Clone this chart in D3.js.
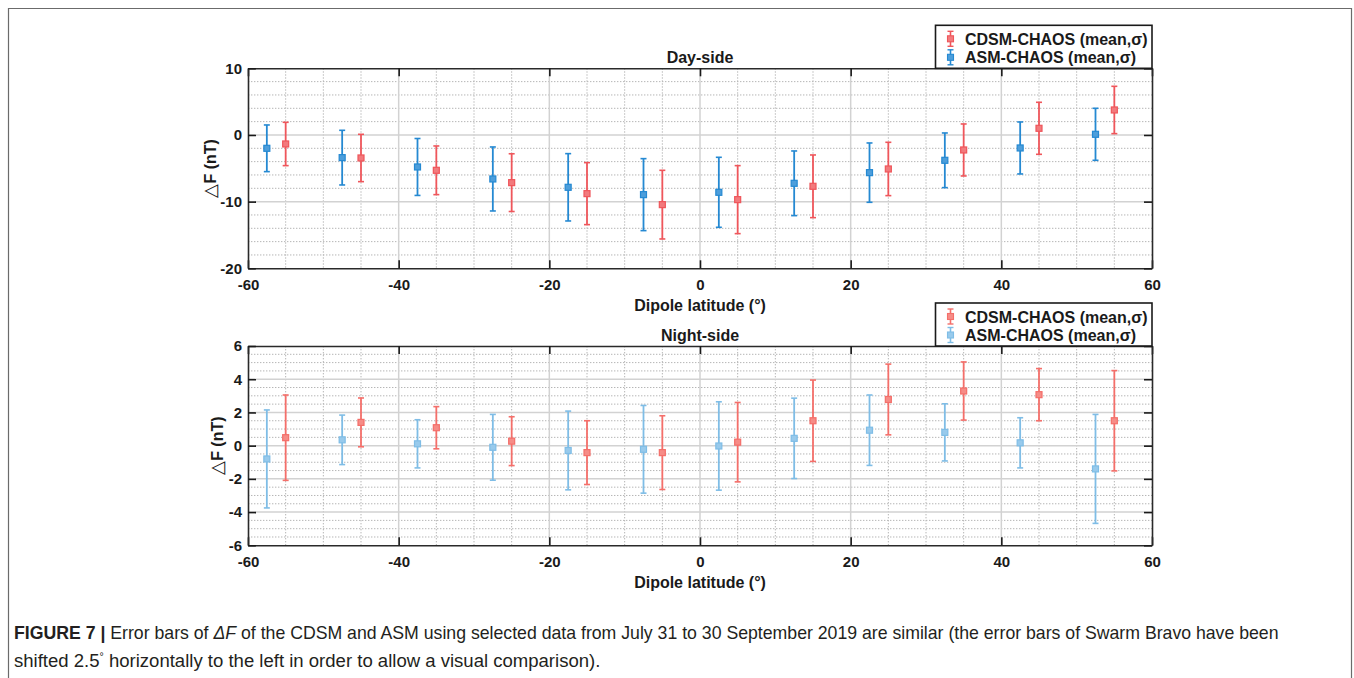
<!DOCTYPE html>
<html><head><meta charset="utf-8">
<script src="https://cdn.jsdelivr.net/npm/d3@7"></script>
<style>
html,body{margin:0;padding:0;background:#fff;}
svg{display:block;font-family:"Liberation Sans",Arial,Helvetica,sans-serif;}
</style></head><body>
<svg id="fig" width="1354" height="678"></svg>
<script>
// Bin centres in dipole latitude (deg); ASM bins are shifted 2.5° to the left
const asmLatitude  = [-57.5,-47.5,-37.5,-27.5,-17.5,-7.5,2.5,12.5,22.5,32.5,42.5,52.5];
const cdsmLatitude = [-55,-45,-35,-25,-15,-5,5,15,25,35,45,55];

// Day-side ΔF statistics (nT)
const dayCdsmMean  = [-1.35,-3.45,-5.3,-7.15,-8.8,-10.45,-9.7,-7.7,-5.1,-2.25,1.0,3.75];
const dayCdsmSigma = [3.25,3.55,3.65,4.33,4.65,5.15,5.1,4.7,4.0,3.9,3.9,3.55];
const dayAsmMean   = [-2.0,-3.4,-4.8,-6.6,-7.85,-8.95,-8.6,-7.25,-5.65,-3.8,-1.95,0.1];
const dayAsmSigma  = [3.5,4.1,4.27,4.8,5.05,5.4,5.25,4.85,4.45,4.1,3.9,3.9];

// Night-side ΔF statistics (nT)
const nightCdsmMean  = [0.48,1.4,1.08,0.27,-0.42,-0.42,0.21,1.5,2.78,3.29,3.07,1.5];
const nightCdsmSigma = [2.57,1.47,1.27,1.47,1.92,2.22,2.39,2.45,2.13,1.75,1.57,3.02];
const nightAsmMean   = [-0.8,0.35,0.11,-0.1,-0.29,-0.22,-0.02,0.44,0.93,0.8,0.17,-1.4];
const nightAsmSigma  = [2.95,1.49,1.45,1.98,2.37,2.64,2.66,2.42,2.12,1.72,1.51,3.28];

// Tick labels
const latTicks   = [-60,-40,-20,0,20,40,60];
const dayTicks   = [-20,-10,0,10];
const nightTicks = [-6,-4,-2,0,2,4,6];

const legendLabels = ["CDSM-CHAOS (mean,\u03c3)", "ASM-CHAOS (mean,\u03c3)"];

const svg = d3.select("#fig");
const plotLeft = 248, plotRight = 1152;
const x = d3.scaleLinear().domain([-60, 60]).range([plotLeft, plotRight]);
const fmt = d => String(d);

// Figure frame
svg.append("path")
  .attr("d", "M8.5,678 V8.5 H1351.5 V678")
  .attr("fill", "none").attr("stroke", "#6b6b6b").attr("stroke-width", 1.2);

function drawPanel(p) {
  const y = d3.scaleLinear().domain(p.yDomain).range([p.bottom, p.top]);
  const g = svg.append("g");

  // minor dotted grid
  const xMinor = d3.range(-55, 60, 5).filter(v => !latTicks.includes(v));
  const yMinor = d3.range(p.yDomain[0], p.yDomain[1] + 1e-9, p.minorStep)
    .filter(v => !p.yTicks.some(t => Math.abs(t - v) < 1e-9));
  g.selectAll(".vmin").data(xMinor).join("line")
    .attr("x1", d => x(d)).attr("x2", d => x(d)).attr("y1", p.top).attr("y2", p.bottom)
    .attr("stroke", "#b5b5b5").attr("stroke-width", 1).attr("stroke-dasharray", "1.4,1.6");
  g.selectAll(".hmin").data(yMinor).join("line")
    .attr("x1", plotLeft).attr("x2", plotRight).attr("y1", d => y(d)).attr("y2", d => y(d))
    .attr("stroke", "#b5b5b5").attr("stroke-width", 1).attr("stroke-dasharray", "1.4,1.6");

  // major solid grid
  g.selectAll(".vmaj").data(latTicks.slice(1, -1)).join("line")
    .attr("x1", d => x(d)).attr("x2", d => x(d)).attr("y1", p.top).attr("y2", p.bottom)
    .attr("stroke", "#d2d2d2").attr("stroke-width", 1.5);
  g.selectAll(".hmaj").data(p.yTicks.slice(1, -1)).join("line")
    .attr("x1", plotLeft).attr("x2", plotRight).attr("y1", d => y(d)).attr("y2", d => y(d))
    .attr("stroke", "#d2d2d2").attr("stroke-width", 1.5);

  // error bars
  p.series.forEach(s => {
    const sg = g.append("g");
    const data = s.lat.map((l, i) => ({ lat: l, m: s.mean[i], sd: s.sigma[i] }));
    sg.selectAll(".bar").data(data).join("line")
      .attr("x1", d => x(d.lat)).attr("x2", d => x(d.lat))
      .attr("y1", d => y(d.m + d.sd)).attr("y2", d => y(d.m - d.sd))
      .attr("stroke", s.color).attr("stroke-width", 1.8);
    ["capTop", "capBot"].forEach((c, k) => {
      sg.selectAll("." + c).data(data).join("line")
        .attr("x1", d => x(d.lat) - 3).attr("x2", d => x(d.lat) + 3)
        .attr("y1", d => y(k ? d.m - d.sd : d.m + d.sd))
        .attr("y2", d => y(k ? d.m - d.sd : d.m + d.sd))
        .attr("stroke", s.color).attr("stroke-width", 1.6);
    });
    sg.selectAll(".mk").data(data).join("rect")
      .attr("x", d => x(d.lat) - 3).attr("y", d => y(d.m) - 3)
      .attr("width", 6).attr("height", 6)
      .attr("fill", s.fill).attr("stroke", s.color).attr("stroke-width", 1.2);
  });

  // axes: labels outside, ticks pointing inward, box on all sides
  const axStyle = a => {
    a.selectAll("text").attr("font-size", 15).attr("font-weight", "bold").attr("fill", "#1a1a1a");
    a.selectAll("line").attr("stroke", "#1a1a1a").attr("stroke-width", 1.6);
    a.select(".domain").attr("stroke", "#2a2a2a").attr("stroke-width", 1.6);
  };
  svg.append("g").attr("transform", `translate(0,${p.bottom})`)
    .call(d3.axisBottom(x).tickValues(latTicks).tickFormat(fmt).tickSizeInner(-8).tickSizeOuter(0).tickPadding(11))
    .call(axStyle);
  svg.append("g").attr("transform", `translate(0,${p.top})`)
    .call(d3.axisTop(x).tickValues(latTicks).tickFormat("").tickSizeInner(-8).tickSizeOuter(0))
    .call(axStyle);
  svg.append("g").attr("transform", `translate(${plotLeft},0)`)
    .call(d3.axisLeft(y).tickValues(p.yTicks).tickFormat(fmt).tickSizeInner(-8).tickSizeOuter(0).tickPadding(6))
    .call(axStyle);
  svg.append("g").attr("transform", `translate(${plotRight},0)`)
    .call(d3.axisRight(y).tickValues(p.yTicks).tickFormat("").tickSizeInner(-8).tickSizeOuter(0))
    .call(axStyle);

  // titles and axis labels
  svg.append("text").attr("x", (plotLeft + plotRight) / 2).attr("y", p.top - 5.5)
    .attr("text-anchor", "middle").attr("font-size", 16).attr("font-weight", "bold")
    .attr("fill", "#1a1a1a").text(p.title);
  svg.append("text").attr("x", (plotLeft + plotRight) / 2).attr("y", p.bottom + 42.3)
    .attr("text-anchor", "middle").attr("font-size", 16).attr("font-weight", "bold")
    .attr("fill", "#1a1a1a").text("Dipole latitude (\u00b0)");
  const yl = svg.append("text")
    .attr("transform", `translate(${p.yLabelX},${(p.top + p.bottom) / 2}) rotate(-90)`)
    .attr("text-anchor", "middle").attr("font-size", 16).attr("font-weight", "bold")
    .attr("fill", "#1a1a1a");
  yl.append("tspan").attr("font-weight", "normal").attr("font-size", 18).text("\u25b3");
  yl.append("tspan").text("F (nT)");

  // legend
  const lg = svg.append("g");
  lg.append("rect").attr("x", 935.5).attr("y", p.top - 43).attr("width", plotRight - 935.5)
    .attr("height", 43).attr("fill", "#fff").attr("stroke", "#1a1a1a").attr("stroke-width", 1.6);
  const entries = [p.series[1], p.series[0]];
  entries.forEach((s, i) => {
    const cy = p.top - 29.5 + i * 18.5, cx = 950.5;
    lg.append("line").attr("x1", cx).attr("x2", cx).attr("y1", cy - 7.5).attr("y2", cy + 7.5)
      .attr("stroke", s.color).attr("stroke-width", 1.6);
    [-7.5, 7.5].forEach(o => lg.append("line").attr("x1", cx - 3).attr("x2", cx + 3)
      .attr("y1", cy + o).attr("y2", cy + o).attr("stroke", s.color).attr("stroke-width", 1.4));
    lg.append("rect").attr("x", cx - 3).attr("y", cy - 3).attr("width", 6).attr("height", 6)
      .attr("fill", s.fill).attr("stroke", s.color).attr("stroke-width", 1.1);
    lg.append("text").attr("x", 965).attr("y", cy + 6).attr("font-size", 16)
      .attr("font-weight", "bold").attr("fill", "#1a1a1a").text(legendLabels[i]);
  });
}

drawPanel({
  top: 68.3, bottom: 268.3, yDomain: [-20, 10], yTicks: dayTicks, minorStep: 2,
  title: "Day-side", yLabelX: 216,
  series: [
    { lat: asmLatitude, mean: dayAsmMean, sigma: dayAsmSigma, color: "#2589d2", fill: "#4d9edb" },
    { lat: cdsmLatitude, mean: dayCdsmMean, sigma: dayCdsmSigma, color: "#ef565b", fill: "#f27a7d" }
  ]
});
drawPanel({
  top: 346, bottom: 545.3, yDomain: [-6, 6], yTicks: nightTicks, minorStep: 0.5,
  title: "Night-side", yLabelX: 223,
  series: [
    { lat: asmLatitude, mean: nightAsmMean, sigma: nightAsmSigma, color: "#7fbde6", fill: "#98caec" },
    { lat: cdsmLatitude, mean: nightCdsmMean, sigma: nightCdsmSigma, color: "#f46f6a", fill: "#f68c87" }
  ]
});

// Caption set in a condensed face: natural width is squeezed horizontally to fit the line
function captionLine(yBase, parts, targetWidth) {
  const t = svg.append("text").attr("font-size", 17.5).attr("fill", "#231f20");
  parts.forEach(pt => {
    const ts = t.append("tspan").text(pt.text);
    if (pt.bold) ts.attr("font-weight", "bold");
    if (pt.italic) ts.attr("font-style", "italic");
    if (pt.sup) ts.attr("font-size", 10).attr("dy", -7);
    if (pt.down) ts.attr("dy", 7);
  });
  const w = t.node().getComputedTextLength();
  t.attr("transform", `translate(14,${yBase}) scale(${targetWidth / w},1)`);
}
captionLine(638.5, [
  { text: "FIGURE 7 | ", bold: true },
  { text: "Error bars of " }, { text: "\u0394F", italic: true },
  { text: " of the CDSM and ASM using selected data from July 31 to 30 September 2019 are similar (the error bars of Swarm Bravo have been" }
], 1266);
captionLine(667, [
  { text: "shifted 2.5" }, { text: "\u00b0", sup: true },
  { text: " horizontally to the left in order to allow a visual comparison).", down: true }
], 587);
</script>
</body></html>
